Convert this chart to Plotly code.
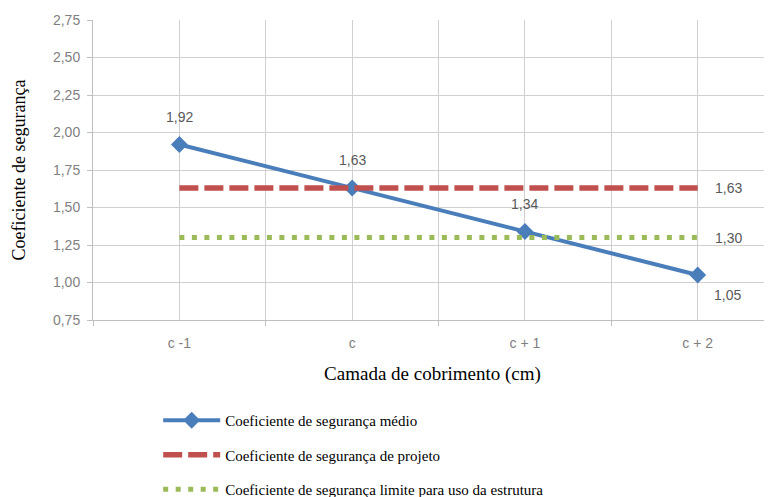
import plotly.graph_objects as go

categories = ["c -1", "c", "c + 1", "c + 2"]
medio = [1.92, 1.63, 1.34, 1.05]
projeto = [1.63, 1.63, 1.63, 1.63]
limite = [1.30, 1.30, 1.30, 1.30]
names = ["Coeficiente de segurança médio",
         "Coeficiente de segurança de projeto",
         "Coeficiente de segurança limite para uso da estrutura"]

xs = list(range(len(categories)))
fig = go.Figure()
fig.add_trace(go.Scatter(x=xs, y=medio, name=names[0], mode="lines+markers",
                         line=dict(color="#4A7EBB", width=4),
                         marker=dict(symbol="diamond", size=13, color="#4A7EBB"),
                         legendgroup="a"))
fig.add_trace(go.Scatter(x=xs, y=projeto, name=names[1], mode="lines",
                         line=dict(color="#C0504D", width=5.5, dash="19px,6px"),
                         legendgroup="b"))
fig.add_trace(go.Scatter(x=xs, y=limite, name=names[2], mode="lines",
                         line=dict(color="#9BBB59", width=5, dash="5px,7.5px"),
                         legendgroup="c"))

lab_font = dict(family="Liberation Sans Narrow, Liberation Sans, Arial", size=14, color="#595959")
tick_font = dict(family="Liberation Sans Narrow, Liberation Sans, Arial", size=14, color="#7F7F7F")
serif = "Liberation Serif"
for i, v in enumerate(medio):
    last = i == len(medio) - 1
    fig.add_annotation(x=xs[i], y=v, text=f"{v:.2f}".replace(".", ","), showarrow=False,
                       yshift=-20 if last else 28, xshift=30 if last else 0, font=lab_font)
fig.add_annotation(x=xs[-1], y=projeto[-1], text=f"{projeto[-1]:.2f}".replace(".", ","),
                   showarrow=False, xanchor="left", xshift=15, font=lab_font)
fig.add_annotation(x=xs[-1], y=limite[-1], text=f"{limite[-1]:.2f}".replace(".", ","),
                   showarrow=False, xanchor="left", xshift=15, font=lab_font)

grid = "#D0D0D0"
fig.update_layout(
    width=764, height=489, margin=dict(l=85, r=0, t=12, b=177, autoexpand=False),
    plot_bgcolor="white", paper_bgcolor="white", separators=", ",
    showlegend=True,
    legend=dict(x=0.096, y=-0.28, xanchor="left", yanchor="top", traceorder="grouped",
                tracegroupgap=12, itemwidth=57,
                font=dict(family=serif, size=15, color="black")),
    xaxis=dict(range=[-0.5, 3.43], tickvals=xs, ticktext=categories,
               showgrid=True, gridcolor=grid, gridwidth=1,
               showline=True, linecolor="#BFBFBF", ticks="", zeroline=False,
               tickfont=tick_font, ticklabelstandoff=10,
               minor=dict(tick0=0.5, dtick=1, showgrid=True, gridcolor=grid,
                          ticks="outside", ticklen=5, tickcolor="#BFBFBF"),
               title=dict(text="Camada de cobrimento (cm)", standoff=16,
                          font=dict(family=serif, size=19, color="black"))),
    yaxis=dict(range=[0.75, 2.75], dtick=0.25, tickformat=".2f",
               showgrid=True, gridcolor=grid, showline=True, linecolor="#BFBFBF",
               ticks="outside", ticklen=5, tickcolor="#BFBFBF", zeroline=False,
               tickfont=tick_font, ticklabelstandoff=4,
               title=dict(text="Coeficiente de segurança", standoff=22,
                          font=dict(family=serif, size=18, color="black"))),
)
fig.write_html("out.html")
